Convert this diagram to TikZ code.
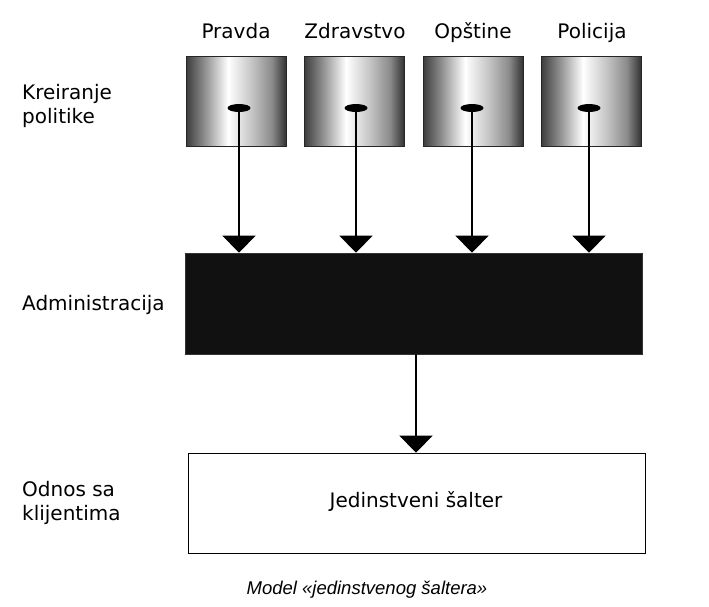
\documentclass[tikz,border=0pt]{standalone}
\usepackage{fontspec}
\setmainfont{DejaVu Sans}
\newfontfamily\capfont{Liberation Sans}
\usetikzlibrary{arrows.meta,shapes.geometric}
\definecolor{mA}{HTML}{3C3C3C}
\definecolor{mB}{HTML}{8C8C8C}
\definecolor{mC}{HTML}{FFFFFF}
\definecolor{mD}{HTML}{C4C4C4}
\definecolor{mE}{HTML}{8A8A8A}
\definecolor{mF}{HTML}{333333}
\definecolor{admfill}{HTML}{111111}
\pgfdeclarehorizontalshading{metal}{100bp}{color(0bp)=(mA); color(25bp)=(mA); color(34bp)=(mB); color(46bp)=(mC); color(58bp)=(mD); color(68bp)=(mE); color(75bp)=(mF); color(100bp)=(mF)}
\tikzset{
  pbox/.style={rectangle, minimum width=100pt, minimum height=90pt, inner sep=0pt, shading=metal, draw=black!85, line width=0.8pt},
  hole/.style={ellipse, minimum width=23pt, minimum height=8pt, inner sep=0pt, fill=black},
  admbox/.style={rectangle, minimum width=457pt, minimum height=101pt, inner sep=0pt, fill=admfill, draw=black!80, line width=0.6pt},
  clbox/.style={rectangle, minimum width=457pt, minimum height=100pt, inner sep=0pt, fill=white, draw=black, line width=1.6pt},
  conn/.style={line width=1.2pt, -{Triangle[width=33pt,length=17pt]}},
  lbl/.style={inner sep=0pt, text=black},
  sidelbl/.style={inner sep=0pt, align=left, text=black}
}
\begin{document}
\begin{tikzpicture}[x=1pt,y=-1pt,font=\fontsize{20}{24.5}\selectfont]
\useasboundingbox (0,0) rectangle (709,606);
% top labels
\node[lbl,anchor=base] (l1) at (236,38) {Pravda};
\node[lbl,anchor=base] (l2) at (355,38) {Zdravstvo};
\node[lbl,anchor=base] (l3) at (473,38) {Opštine};
\node[lbl,anchor=base] (l4) at (592,38) {Policija};
% side labels
\node[sidelbl,anchor=north west] (s1) at (22,84) {Kreiranje\\politike};
\node[sidelbl,anchor=base west] (s2) at (22,310) {Administracija};
\node[sidelbl,anchor=north west] (s3) at (22,481) {Odnos sa\\klijentima};
% policy boxes
\node[pbox] (b1) at (236,101) {};
\node[pbox] (b2) at (354,101) {};
\node[pbox] (b3) at (473,101) {};
\node[pbox] (b4) at (591,101) {};
\node[hole] (e1) at (239,108) {};
\node[hole] (e2) at (356,108) {};
\node[hole] (e3) at (472,108) {};
\node[hole] (e4) at (589,108) {};
% administration
\node[admbox] (adm) at (414,303.5) {};
% client box
\node[clbox] (jed) at (417,503.5) {};
\node[lbl,anchor=base] (jt) at (416,507) {Jedinstveni šalter};
% connectors
\draw[conn] (e1.center) -- (e1.center |- adm.north);
\draw[conn] (e2.center) -- (e2.center |- adm.north);
\draw[conn] (e3.center) -- (e3.center |- adm.north);
\draw[conn] (e4.center) -- (e4.center |- adm.north);
\coordinate (ad) at (416,354);
\draw[conn] (ad) -- (ad |- jed.north);
% caption
\node[lbl,anchor=base,font=\capfont\itshape\fontsize{18.5}{22}\selectfont] (cap) at (367,594) {Model «jedinstvenog šaltera»};
\end{tikzpicture}
\end{document}
